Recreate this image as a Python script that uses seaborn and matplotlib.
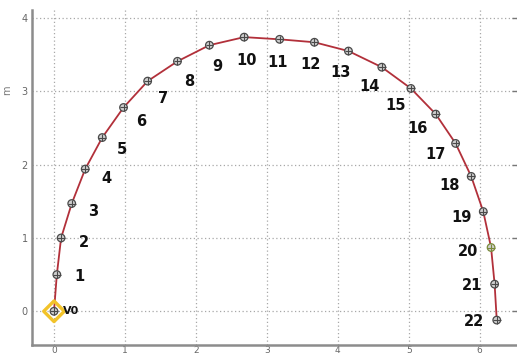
import numpy as np
import pandas as pd
import matplotlib
matplotlib.use("Agg")
import matplotlib.pyplot as plt
import seaborn as sns

# ---- data ----
point_labels = ["V0"] + [str(i) for i in range(1, 23)]
x_m = [0.00, 0.04, 0.10, 0.25, 0.44, 0.68, 0.98, 1.32, 1.74, 2.19, 2.68, 3.18,
       3.67, 4.15, 4.62, 5.03, 5.38, 5.66, 5.88, 6.05, 6.16, 6.21, 6.24]
y_m = [0.00, 0.50, 1.00, 1.47, 1.94, 2.37, 2.78, 3.14, 3.41, 3.63, 3.74, 3.71,
       3.67, 3.55, 3.33, 3.04, 2.69, 2.29, 1.84, 1.36, 0.87, 0.37, -0.12]
x_ticks = [0, 1, 2, 3, 4, 5, 6]
y_ticks = [0, 1, 2, 3, 4]

df = pd.DataFrame({"x": x_m, "y": y_m, "label": point_labels})

sns.set_style("white")
plt.rcParams["font.family"] = ["DejaVu Sans"]

fig = plt.figure(figsize=(5.17, 3.56), dpi=100)
ax = fig.add_axes([32 / 517, 11 / 356, 1 - 32 / 517 + 0.002, (345 - 10) / 356])

ax.set_xlim(-0.31, 6.54)
ax.set_ylim(-0.46, 4.11)

ax.set_xticks(x_ticks)
ax.set_yticks(y_ticks)
ax.grid(True, linestyle=(0, (1, 2)), color="#a8a8a8", linewidth=0.9)
ax.set_axisbelow(True)

sns.lineplot(data=df, x="x", y="y", sort=False, ax=ax, color="#b2303a",
             linewidth=1.3, estimator=None, zorder=3)

# start marker
ax.scatter([x_m[0]], [y_m[0]], marker="D", s=110, facecolors="none",
           edgecolors="#f2c32a", linewidths=2.4, zorder=4)

edge_cols = ["#4a4a4a"] * len(x_m)
edge_cols[20] = "#7a8a3a"
sns.scatterplot(data=df, x="x", y="y", ax=ax, marker="o", s=30,
                facecolor="#cfcfcf", edgecolor=edge_cols, linewidth=0.9, zorder=5)
ax.scatter(x_m, y_m, marker="+", s=30, color=edge_cols, linewidths=0.8, zorder=5)

# labels: offset along inward normal of the curve
fig.canvas.draw()
pix = ax.transData.transform(np.column_stack([x_m, y_m]))
n = len(x_m)
for i in range(1, n):
    a = pix[max(i - 1, 0)]
    b = pix[min(i + 1, n - 1)]
    d = b - a
    d = d / np.hypot(*d)
    nx, ny = d[1], -d[0]
    dist = 23
    ax.annotate(point_labels[i], xy=(x_m[i], y_m[i]),
                xytext=(nx * dist, ny * dist), textcoords="offset pixels",
                ha="center", va="center", fontsize=10.5, fontweight="bold",
                color="#111111", zorder=6)
ax.annotate(point_labels[0], xy=(x_m[0], y_m[0]), xytext=(17, 0),
            textcoords="offset pixels", ha="center", va="center",
            fontsize=8, fontweight="bold", color="#111111", zorder=6)

for s in ["top", "right"]:
    ax.spines[s].set_visible(False)
for s in ["left", "bottom"]:
    ax.spines[s].set_color("#8c8c8c")
    ax.spines[s].set_linewidth(1.8)

ax.tick_params(axis="both", direction="in", length=4, width=1, color="#777777",
               labelsize=7, labelcolor="#666666", right=True, pad=3)
ax.tick_params(axis="x", labelsize=6.5, pad=1)
ax.set_xlabel("")
ax.set_ylabel("m", fontsize=7, color="#777777")
ax.yaxis.set_label_coords(-0.04, 0.76)

fig.savefig("out.png", dpi=100)
